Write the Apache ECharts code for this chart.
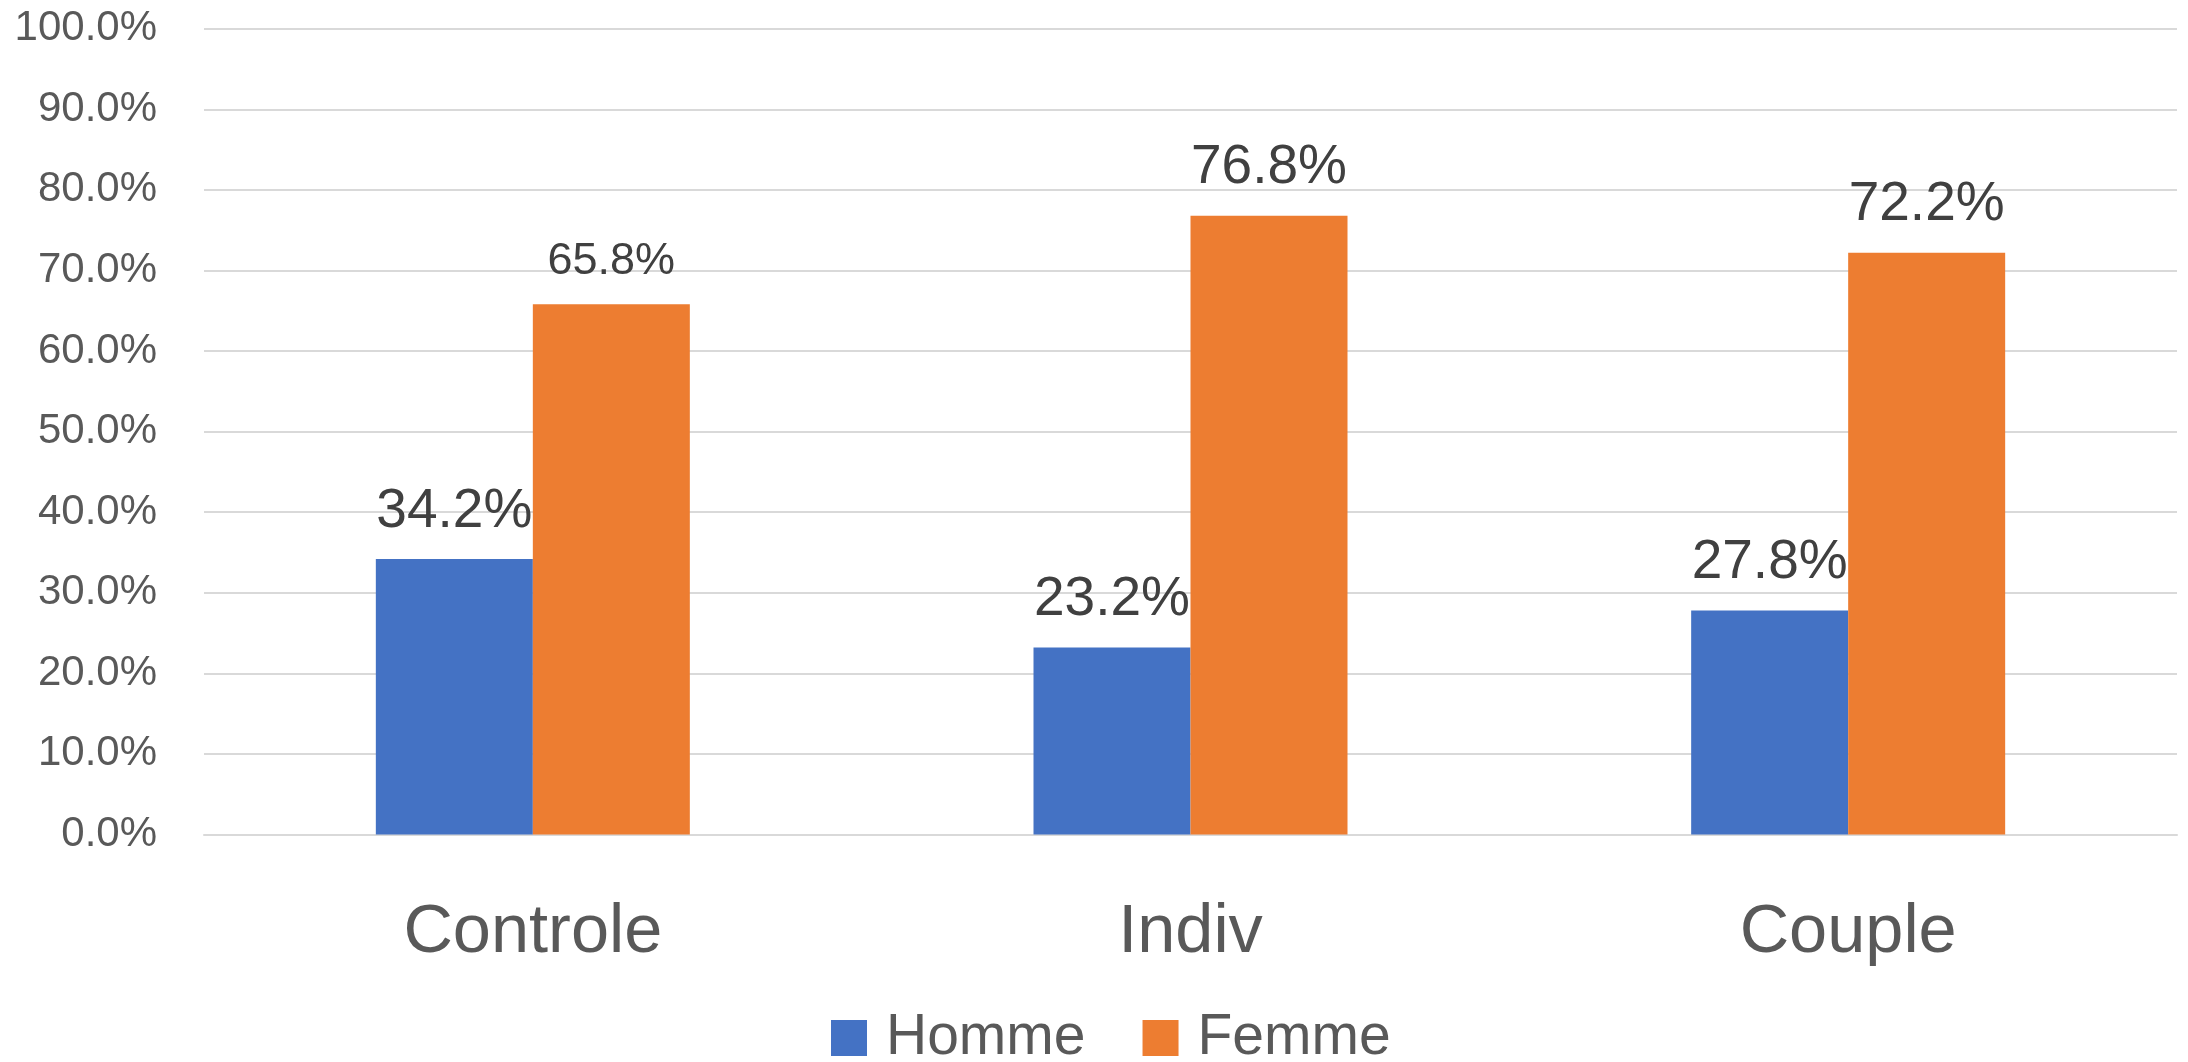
<!DOCTYPE html>
<html>
<head>
<meta charset="utf-8">
<script src="https://cdn.jsdelivr.net/npm/echarts@6/dist/echarts.min.js"></script>
<style>
html,body{margin:0;padding:0;background:#fff;}
#c{width:2188px;height:1062px;}
</style>
</head>
<body>
<div id="c"></div>
<script>
const categories = ['Controle', 'Indiv', 'Couple'];
const seriesNames = ['Homme', 'Femme'];
const homme = [34.2, 23.2, 27.8];
const femme = [65.8, 76.8, 72.2];
const yTicks = [0, 10, 20, 30, 40, 50, 60, 70, 80, 90, 100];

const FONT = '"Liberation Sans", Arial, sans-serif';
const chart = echarts.init(document.getElementById('c'), null, {renderer: 'canvas'});

const labelStyle = {
  show: true,
  position: 'top',
  distance: 20,
  color: '#404040',
  fontFamily: FONT,
  fontSize: 55,
  formatter: p => p.value.toFixed(1) + '%'
};

chart.setOption({
  animation: false,
  backgroundColor: '#ffffff',
  color: ['#4472C4', '#ED7D31'],
  grid: {left: 204, right: 11, top: 28.7, bottom: 227.5, containLabel: false},
  legend: {
    data: seriesNames,
    left: 826,
    top: 1004.5,
    icon: 'rect',
    itemWidth: 36,
    itemHeight: 36,
    itemGap: 57,
    textStyle: {color: '#595959', fontFamily: FONT, fontSize: 57, padding: [0, 0, 0, 14]}
  },
  xAxis: {
    type: 'category',
    data: categories,
    axisTick: {show: false},
    axisLine: {show: true, lineStyle: {color: '#d9d9d9', width: 2}},
    axisLabel: {color: '#595959', fontFamily: FONT, fontSize: 68.5, margin: 64}
  },
  yAxis: {
    type: 'value',
    min: yTicks[0],
    max: yTicks[yTicks.length - 1],
    interval: yTicks[1] - yTicks[0],
    axisLine: {show: false},
    axisTick: {show: false},
    splitLine: {lineStyle: {color: '#d9d9d9', width: 2}},
    axisLabel: {color: '#595959', fontFamily: FONT, fontSize: 42, margin: 47,
      formatter: v => v.toFixed(1) + '%'}
  },
  series: [
    {
      name: seriesNames[0], type: 'bar', data: homme,
      barWidth: 157, barGap: '0%',
      label: labelStyle
    },
    {
      name: seriesNames[1], type: 'bar',
      data: femme.map((v, i) => i === 0 ? {value: v, label: {fontSize: 45}} : v),
      barWidth: 157, barGap: '0%',
      label: labelStyle
    }
  ]
});
</script>
</body>
</html>
